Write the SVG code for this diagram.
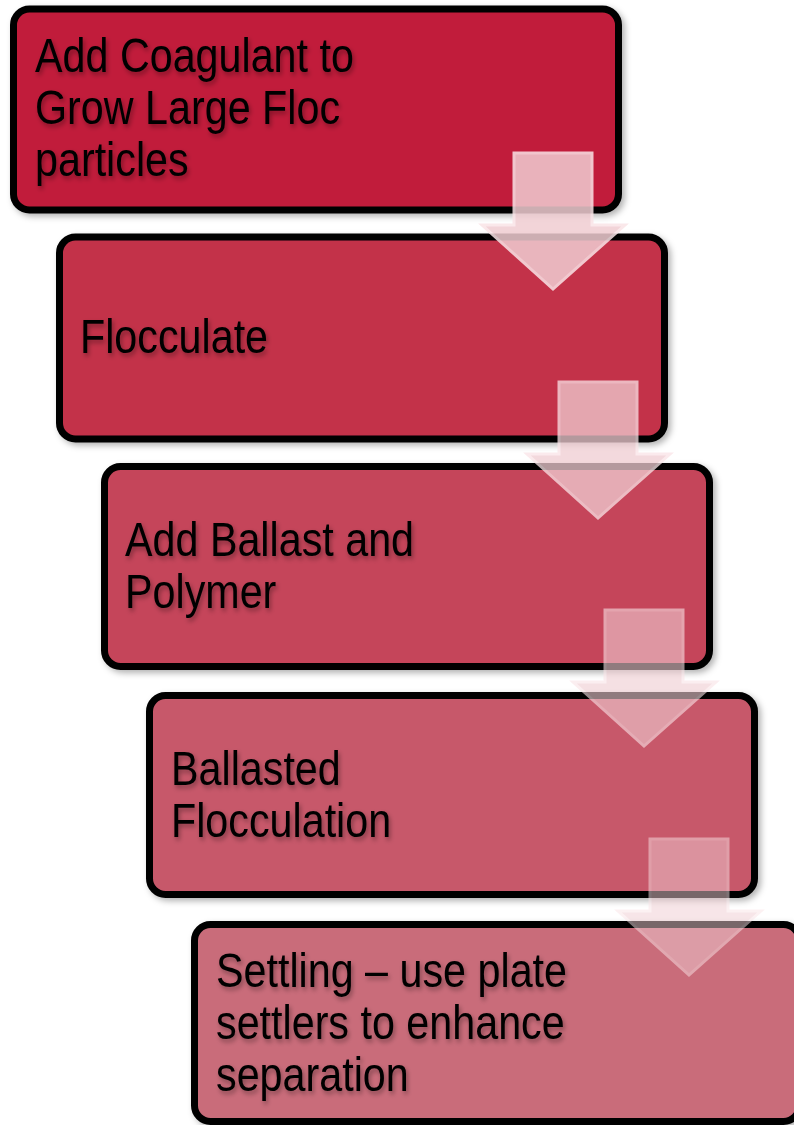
<svg xmlns="http://www.w3.org/2000/svg" width="794" height="1125" viewBox="0 0 794 1125">
<defs>
<filter id="boxShadow" x="-10%" y="-10%" width="125%" height="125%">
<feDropShadow dx="3" dy="3" stdDeviation="3" flood-color="#000" flood-opacity="0.3"/>
</filter>
<filter id="txtShadow" x="-10%" y="-20%" width="125%" height="150%">
<feDropShadow dx="2" dy="3" stdDeviation="2.5" flood-color="#000" flood-opacity="0.35"/>
</filter>
</defs>
<style>
.box{stroke:#000;stroke-width:7;filter:url(#boxShadow)}
.lbl{font-family:"Liberation Sans",Arial,sans-serif;font-size:48px;fill:#000;filter:url(#txtShadow)}
.arr{fill:rgb(240,205,210);stroke:rgb(250,228,231);stroke-width:3;stroke-linejoin:miter}
</style>
<rect width="794" height="1125" fill="#fff"/>
<g id="node1">
<rect class="box" x="13.5" y="9" width="605" height="201" rx="16" fill="rgb(193,30,58)"/>
<text class="lbl" transform="translate(35,0) scale(0.86,1)"><tspan x="0" y="72">Add Coagulant to</tspan><tspan x="0" y="124">Grow Large Floc</tspan><tspan x="0" y="176">particles</tspan></text>
</g>
<g id="node2">
<rect class="box" x="59.5" y="237" width="605" height="202" rx="16" fill="rgb(195,50,74)"/>
<text class="lbl" transform="translate(80,0) scale(0.86,1)"><tspan x="0" y="353">Flocculate</tspan></text>
</g>
<g id="node3">
<rect class="box" x="104.5" y="466.5" width="605" height="200" rx="16" fill="rgb(197,69,90)"/>
<text class="lbl" transform="translate(125,0) scale(0.86,1)"><tspan x="0" y="556">Add Ballast and</tspan><tspan x="0" y="608">Polymer</tspan></text>
</g>
<g id="node4">
<rect class="box" x="149.5" y="695.5" width="605" height="199" rx="16" fill="rgb(199,89,106)"/>
<text class="lbl" transform="translate(171,0) scale(0.86,1)"><tspan x="0" y="785">Ballasted</tspan><tspan x="0" y="837">Flocculation</tspan></text>
</g>
<g id="node5">
<rect class="box" x="194.5" y="924.5" width="605" height="197" rx="16" fill="rgb(201,108,122)"/>
<text class="lbl" transform="translate(216,0) scale(0.86,1)"><tspan x="0" y="987">Settling – use plate</tspan><tspan x="0" y="1039">settlers to enhance</tspan><tspan x="0" y="1091">separation</tspan></text>
</g>
<g id="connectors">
<path class="arr" opacity="0.85" d="M514,153 L592,153 L592,225 L625,225 L553,289 L482,225 L514,225 Z"/>
<path class="arr" opacity="0.75" d="M559,382 L637,382 L637,454 L670,454 L598,518 L527,454 L559,454 Z"/>
<path class="arr" opacity="0.6" d="M605,610 L683,610 L683,682 L716,682 L644,746 L573,682 L605,682 Z"/>
<path class="arr" opacity="0.5" d="M650,839 L728,839 L728,911 L761,911 L689,975 L618,911 L650,911 Z"/>
</g>
</svg>
